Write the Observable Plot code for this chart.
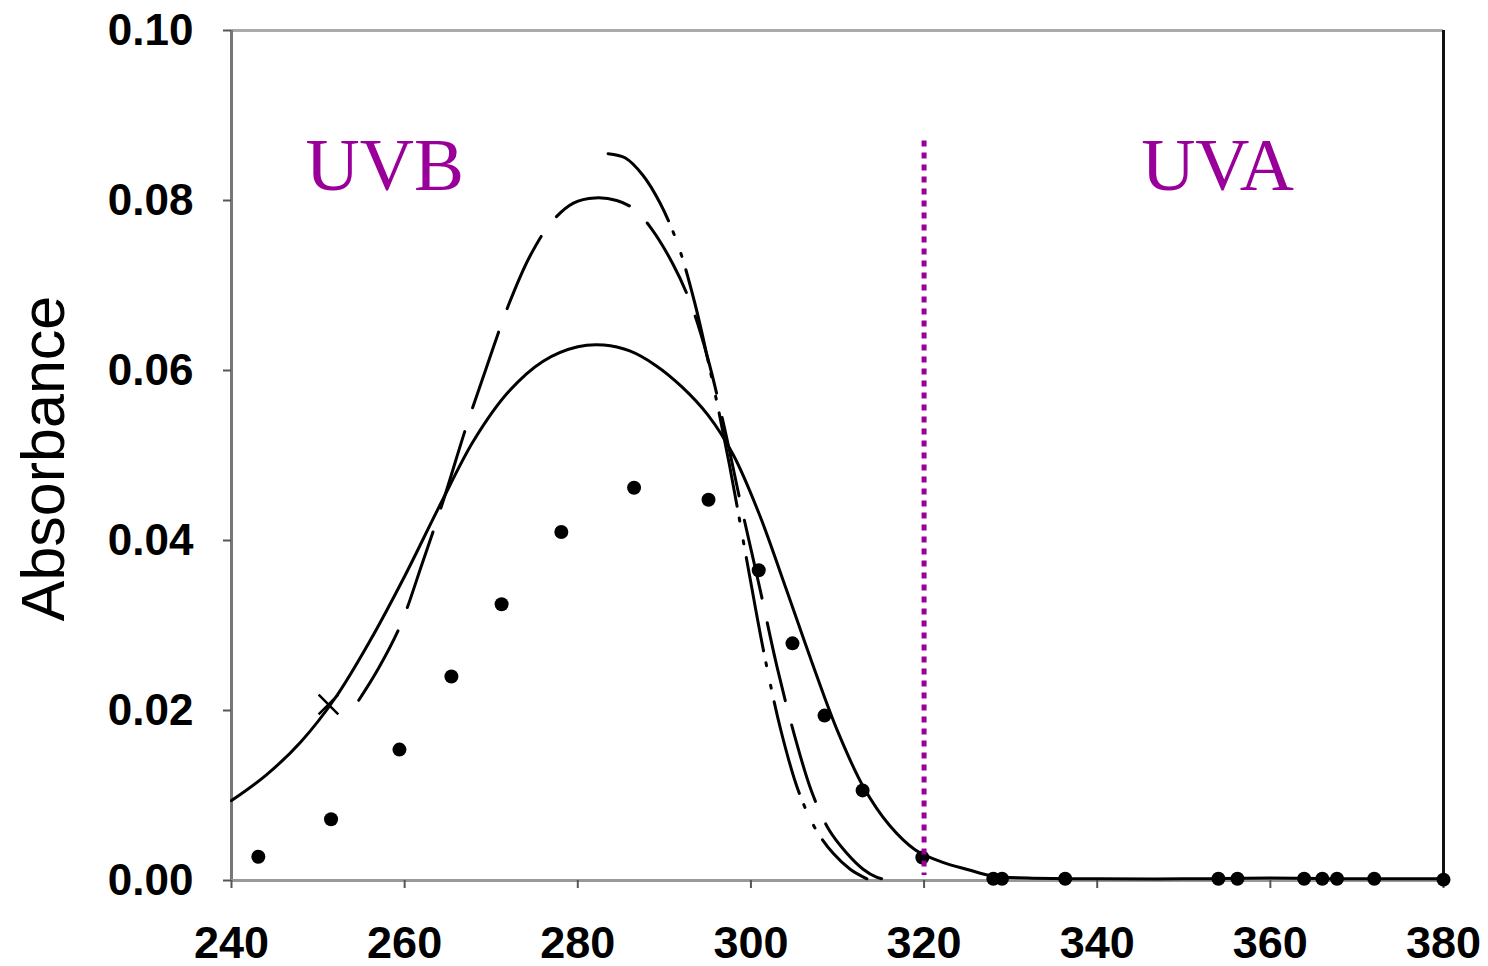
<!DOCTYPE html>
<html>
<head>
<meta charset="utf-8">
<script src="https://cdn.jsdelivr.net/npm/d3@7"></script>
<script src="https://cdn.jsdelivr.net/npm/@observablehq/plot@0.6"></script>
<style>
  html, body { margin: 0; padding: 0; background: #fff; }
  #chart { width: 1488px; height: 966px; }
</style>
</head>
<body>
<div id="chart"></div>
<script>
// Measured data points (filled circles)
const pointWavelength = [243.1, 251.5, 259.4, 265.4, 271.2, 278.1, 286.5, 295.1, 300.9, 304.8, 308.5, 312.9, 319.8, 328.0, 329.0, 336.3, 354.0, 356.2, 363.9, 366.0, 367.7, 372.0, 380.0];
const pointAbsorbance = [0.0028, 0.0072, 0.0154, 0.0240, 0.0325, 0.0410, 0.0462, 0.0448, 0.0365, 0.0279, 0.0194, 0.0106, 0.0027, 0.0002, 0.0002, 0.0002, 0.0002, 0.0002, 0.0002, 0.0002, 0.0002, 0.0002, 0.0001];

// Solid curve
const solidWavelength = [240, 244, 248, 252, 256, 260, 264, 268, 272, 276, 280, 283, 286, 289, 292, 295, 298, 301, 304, 307, 310, 313, 316, 319, 322, 325, 328, 332, 340, 350, 360, 370, 380];
const solidAbsorbance = [0.0094, 0.0124, 0.0163, 0.0215, 0.0282, 0.0358, 0.0440, 0.0518, 0.0575, 0.0611, 0.0628, 0.0630, 0.0623, 0.0606, 0.0581, 0.0548, 0.0500, 0.0430, 0.0345, 0.0258, 0.0176, 0.0110, 0.0065, 0.0036, 0.0022, 0.0013, 0.0005, 0.0003, 0.0002, 0.0002, 0.0003, 0.0002, 0.0002];

// Long-dash curve
const dashWavelength = [254.7, 257, 259.5, 262, 264.5, 267, 269.5, 272, 274.5, 277, 279.5, 282, 284.5, 286.5, 288.5, 291, 293, 295, 297, 299, 301, 303, 305, 307, 309, 311, 313, 314.5, 316];
const dashAbsorbance = [0.0212, 0.0250, 0.0300, 0.0372, 0.0448, 0.0530, 0.0605, 0.0677, 0.0735, 0.0775, 0.0797, 0.0803, 0.0800, 0.0790, 0.0767, 0.0725, 0.0680, 0.0615, 0.0530, 0.0435, 0.0345, 0.0252, 0.0172, 0.0105, 0.0060, 0.0033, 0.0013, 0.0004, 0.0000];

// Dash-dot-dot curve
const dashDotWavelength = [283.5, 285.5, 287.5, 289.5, 291.5, 293.5, 295.5, 297.5, 299.5, 301.5, 303.5, 305.5, 307.5, 309.5, 311.5, 313.4];
const dashDotAbsorbance = [0.0855, 0.0850, 0.0830, 0.0797, 0.0750, 0.0680, 0.0590, 0.0490, 0.0378, 0.0268, 0.0175, 0.0105, 0.0060, 0.0032, 0.0013, 0.0002];

// Cross marker on the solid curve
const crossWavelength = [251.2];
const crossAbsorbance = [0.0207];

// Axis ticks
const xTicks = [240, 260, 280, 300, 320, 340, 360, 380];
const yTicks = [0, 0.02, 0.04, 0.06, 0.08, 0.10];

// UVB / UVA boundary and region labels
const boundary = [320];
const boundaryTop = 0.087;
const boundaryBottom = 0.0006;
const regionLabels = ["UVB", "UVA"];
const regionLabelX = [257.7, 353.9];
const regionLabelY = [0.0841, 0.0841];

const purple = "#990099";

const zip = (xs, ys) => xs.map((x, i) => ({x, y: ys[i]}));

const points = zip(pointWavelength, pointAbsorbance);
const solid = zip(solidWavelength, solidAbsorbance);
const dash = zip(dashWavelength, dashAbsorbance);
const dashDot = zip(dashDotWavelength, dashDotAbsorbance);
const cross = zip(crossWavelength, crossAbsorbance);
const labels = regionLabels.map((t, i) => ({t, x: regionLabelX[i], y: regionLabelY[i]}));

const chart = Plot.plot({
  width: 1488,
  height: 966,
  marginLeft: 231,
  marginRight: 45,
  marginTop: 30,
  marginBottom: 86,
  style: {fontFamily: "'Liberation Sans', Arial, sans-serif", background: "#fff", overflow: "visible"},
  x: {domain: [240, 380]},
  y: {domain: [0, 0.1]},
  marks: [
    // frame
    Plot.ruleY([0.1], {stroke: "#aaa", strokeWidth: 3}),
    Plot.ruleX([380], {stroke: "#111", strokeWidth: 3}),
    Plot.ruleX([240], {stroke: "#777", strokeWidth: 3}),
    Plot.ruleY([0], {stroke: "#999", strokeWidth: 3}),
    Plot.axisY({ticks: yTicks, tickFormat: d3.format(".2f"), tickSize: 8, tickPadding: 30, fontSize: 44, fontWeight: "bold", stroke: "#555", strokeWidth: 2, label: null, color: "#000"}),
    Plot.axisX({ticks: xTicks, tickSize: 8, tickPadding: 38, fontSize: 45, fontWeight: "bold", stroke: "#555", strokeWidth: 2, label: null, color: "#000"}),
    Plot.text(["Absorbance"], {frameAnchor: "left", rotate: -90, dx: -168, dy: 3, lineAnchor: "bottom", textAnchor: "middle", fontSize: 61, fill: "#000"}),
    // curves
    Plot.line(solid, {x: "x", y: "y", stroke: "#000", strokeWidth: 3, curve: "catmull-rom"}),
    Plot.line(dash, {x: "x", y: "y", stroke: "#000", strokeWidth: 3, curve: "catmull-rom", strokeDasharray: "80,25"}),
    Plot.line(dashDot, {x: "x", y: "y", stroke: "#000", strokeWidth: 3, curve: "catmull-rom", strokeDasharray: "95,12,3,20,3,14"}),
    Plot.dot(cross, {x: "x", y: "y", symbol: "times", r: 9, stroke: "#000", strokeWidth: 2.5}),
    Plot.dot(points, {x: "x", y: "y", r: 7, fill: "#000"}),
    // boundary line and labels
    Plot.ruleX(boundary, {y1: boundaryTop, y2: boundaryBottom, stroke: purple, strokeWidth: 5, strokeDasharray: "6,6"}),
    Plot.text(labels, {x: "x", y: "y", text: "t", fill: purple, fontSize: 75, fontFamily: "'Liberation Serif', 'Times New Roman', serif", textAnchor: "middle", lineAnchor: "middle"})
  ]
});

document.getElementById("chart").appendChild(chart);
</script>
</body>
</html>
